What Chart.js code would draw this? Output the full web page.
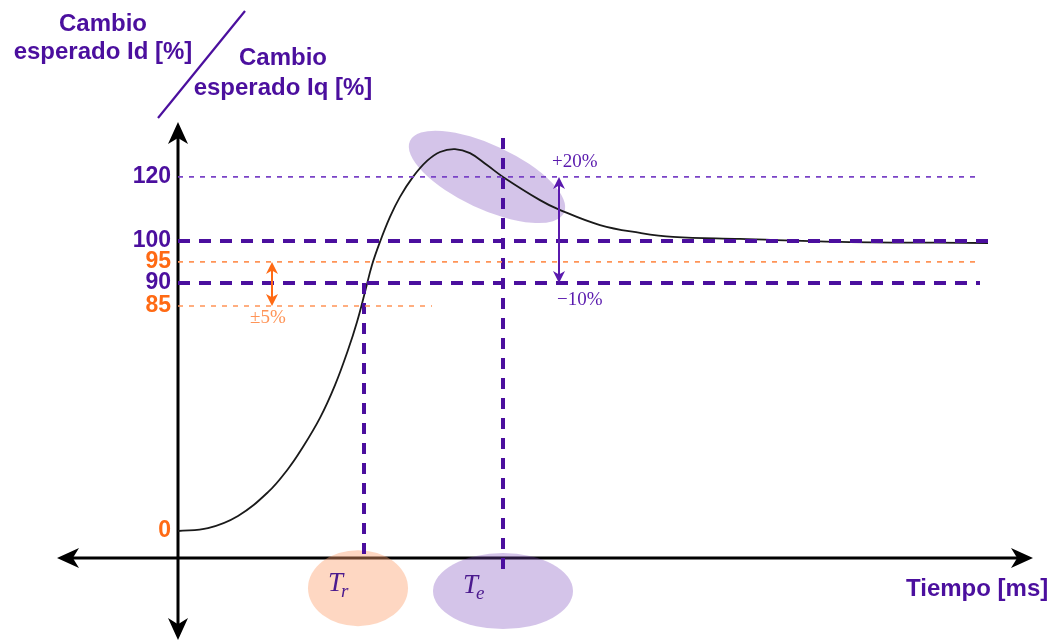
<!DOCTYPE html>
<html>
<head>
<meta charset="utf-8">
<script src="https://cdn.jsdelivr.net/npm/chart.js@4.4.1/dist/chart.umd.min.js"></script>
<style>
    html, body { margin: 0; padding: 0; background: #fff; }
    #wrap { width: 1054px; height: 641px; position: relative; }
</style>
</head>
<body>
<div id="wrap"><canvas id="chart"></canvas></div>
<script>
// Step response sketch (schematic units)
const curveT = [0, 3.0, 6.0, 9.0, 11.0, 12.3, 14.2, 15.7, 17.0, 17.9, 18.7, 19.4, 20.2, 21.2, 22.2, 23.5, 24.9, 26.2, 27.7, 29.2, 30.9, 32.5, 36.2, 38.0, 42.2, 46.2, 49.5, 56.2, 66.2, 81.0];
const curveV = [0, 1.0, 5.2, 13.4, 21.4, 27.9, 39.0, 50.3, 62.4, 72.1, 82.4, 91.7, 99.7, 108.3, 115.2, 122.1, 127.6, 130.7, 131.7, 130.3, 126.2, 122.1, 114.1, 111.0, 105.5, 102.8, 101.4, 100.7, 99.7, 99.3];

// y axis is a sketch: tick positions are where the labels sit in the drawing
const yTickValues = [0, 77.6, 85.5, 92.8, 100, 122.1];
const yTickLabels = ['0', '85', '90', '95', '100', '120'];

// horizontal reference levels (value, end time)
const refLevels = [122.1, 100, 92.8, 85.5, 77.6];
const refEnds = [80.2, 81.1, 80.2, 80.2, 25.4];

// vertical markers Tr / Te
const markerTimes = [18.6, 32.5];
const markerTops = [85.5, 135.5];
const markerBottoms = [-10, -13.4];

const PURPLE = '#4B0F9E';
const PURPLE_LIGHT = '#7A43C6';
const ORANGE = '#FF6A14';
const ORANGE_LIGHT = '#FF9457';
const yTickColors = [ORANGE, ORANGE, PURPLE, ORANGE, PURPLE, PURPLE];

const refStyles = [
    { color: PURPLE_LIGHT, width: 1.6, dash: [5, 6] },
    { color: PURPLE, width: 4, dash: [12, 9] },
    { color: ORANGE_LIGHT, width: 1.6, dash: [5, 6] },
    { color: PURPLE, width: 4, dash: [12, 9] },
    { color: ORANGE_LIGHT, width: 1.6, dash: [5, 6] }
];

function sketchArrowHead(ctx, x, y, angle, len, half) {
    ctx.save();
    ctx.translate(x, y);
    ctx.rotate(angle);
    ctx.beginPath();
    ctx.moveTo(0, 0);
    ctx.lineTo(-len, -half);
    ctx.lineTo(-len * 0.72, 0);
    ctx.lineTo(-len, half);
    ctx.closePath();
    ctx.fill();
    ctx.restore();
}

function sketchDoubleArrow(ctx, x, y1, y2, color) {
    ctx.save();
    ctx.strokeStyle = color;
    ctx.fillStyle = color;
    ctx.lineWidth = 2;
    ctx.beginPath();
    ctx.moveTo(x, y1 + 4);
    ctx.lineTo(x, y2 - 4);
    ctx.stroke();
    sketchArrowHead(ctx, x, y1, -Math.PI / 2, 12, 6);
    sketchArrowHead(ctx, x, y2, Math.PI / 2, 12, 6);
    ctx.restore();
}

function sketchEllipse(ctx, cx, cy, rx, ry, rot, color) {
    ctx.save();
    ctx.fillStyle = color;
    ctx.beginPath();
    ctx.ellipse(cx, cy, rx, ry, rot, 0, Math.PI * 2);
    ctx.fill();
    ctx.restore();
}

function sketchSubLabel(ctx, x, y, main, sub) {
    ctx.save();
    ctx.fillStyle = '#4B1A8E';
    ctx.textBaseline = 'alphabetic';
    ctx.textAlign = 'left';
    ctx.font = 'italic 27px "Liberation Serif"';
    ctx.fillText(main, x, y);
    const w = ctx.measureText(main).width;
    ctx.font = 'italic 19px "Liberation Serif"';
    ctx.fillText(sub, x + w - 2, y + 6);
    ctx.restore();
}

const sketchPlugin = {
    id: 'sketch',
    beforeDatasetsDraw(chart) {
        const ctx = chart.ctx;
        const xs = chart.scales.x, ys = chart.scales.y;
        const px = v => xs.getPixelForValue(v);
        const py = v => ys.getPixelForValue(v);

        // overshoot ellipse
        sketchEllipse(ctx, px(30.9), py(122.1), 85, 32, 25 * Math.PI / 180, 'rgba(120, 72, 186, 0.32)');

        // axes with arrows at both ends
        ctx.save();
        ctx.strokeStyle = '#000';
        ctx.fillStyle = '#000';
        ctx.lineWidth = 3;
        const axY = py(-9.3), axL = px(-12.1), axR = px(85.5);
        const ayX = px(0), ayT = py(141), ayB = py(-37.6);
        ctx.beginPath();
        ctx.moveTo(axL + 10, axY); ctx.lineTo(axR - 10, axY);
        ctx.moveTo(ayX, ayT + 10); ctx.lineTo(ayX, ayB - 10);
        ctx.stroke();
        sketchArrowHead(ctx, axL, axY, Math.PI, 22, 10);
        sketchArrowHead(ctx, axR, axY, 0, 22, 10);
        sketchArrowHead(ctx, ayX, ayT, -Math.PI / 2, 22, 10);
        sketchArrowHead(ctx, ayX, ayB, Math.PI / 2, 22, 10);
        ctx.restore();

        // ellipses under the time labels
        sketchEllipse(ctx, px(18.0), py(-19.7), 50, 38, 0, 'rgba(252, 160, 110, 0.42)');
        sketchEllipse(ctx, px(32.5), py(-20.7), 70, 38, 0, 'rgba(120, 72, 186, 0.32)');
    },
    afterDraw(chart) {
        const ctx = chart.ctx;
        const xs = chart.scales.x, ys = chart.scales.y;
        const px = v => xs.getPixelForValue(v);
        const py = v => ys.getPixelForValue(v);

        // tolerance arrows
        sketchDoubleArrow(ctx, px(9.4), py(92.8), py(77.6), ORANGE);
        sketchDoubleArrow(ctx, px(38.1), py(122.1), py(85.5), '#5A1AAE');

        ctx.save();
        ctx.textBaseline = 'alphabetic';
        ctx.textAlign = 'left';
        ctx.font = '19px "Liberation Serif"';
        ctx.fillStyle = ORANGE_LIGHT;
        ctx.fillText('\u00B15%', 250, 323);
        ctx.fillStyle = '#5A1AAE';
        ctx.fillText('+20%', 552, 167);
        ctx.fillText('\u221210%', 557, 305);

        // axis titles
        ctx.font = 'bold 24px "Liberation Sans"';
        ctx.fillStyle = PURPLE;
        ctx.textAlign = 'center';
        ctx.fillText('Cambio', 103, 31);
        ctx.fillText('esperado Id [%]', 103, 59);
        ctx.fillText('Cambio', 283, 65);
        ctx.fillText('esperado Iq [%]', 283, 95);
        ctx.textAlign = 'left';
        ctx.fillText('Tiempo [ms]', 906, 596);

        ctx.strokeStyle = PURPLE;
        ctx.lineWidth = 2.2;
        ctx.beginPath();
        ctx.moveTo(245, 11);
        ctx.lineTo(158, 118);
        ctx.stroke();
        ctx.restore();

        sketchSubLabel(ctx, 328, 591, 'T', 'r');
        sketchSubLabel(ctx, 463, 593, 'T', 'e');
    }
};

function makeLine(points, color, width, dash, order) {
    const ds = { borderColor: color, borderWidth: width, borderDash: dash, pointRadius: 0, order: order };
    ds['data'] = points;
    return ds;
}

const datasets = [];
refLevels.forEach((lvl, i) => {
    const st = refStyles[i];
    datasets.push(makeLine([{ x: 0, y: lvl }, { x: refEnds[i], y: lvl }], st.color, st.width, st.dash, 1));
});
markerTimes.forEach((t, i) => {
    datasets.push(makeLine([{ x: t, y: markerTops[i] }, { x: t, y: markerBottoms[i] }], PURPLE, 4, [11, 9], 1));
});
const curveDs = makeLine(curveT.map((t, i) => ({ x: t, y: curveV[i] })), '#1a1a1a', 1.8, [], 2);
curveDs.tension = 0.4;
datasets.push(curveDs);

const config = {
    type: 'line',
    options: {
        responsive: true,
        maintainAspectRatio: false,
        animation: false,
        layout: { padding: 0 },
        plugins: { legend: { display: false }, tooltip: { enabled: false } },
        scales: {
            x: {
                type: 'linear',
                display: false,
                min: 0,
                max: 87.6
            },
            y: {
                type: 'linear',
                min: -37.93,
                max: 183.1,
                grid: { display: false, drawTicks: false },
                border: { display: false },
                afterBuildTicks: s => { s.ticks = yTickValues.map(v => ({ value: v })); },
                afterFit: s => {
                    s.width = 178;
                    s.paddingTop = 0;
                    s.paddingBottom = 0;
                },
                ticks: {
                    autoSkip: false,
                    padding: 7,
                    color: c => yTickColors[c.index],
                    font: { family: 'Liberation Sans', size: 23, weight: 'bold' },
                    callback: (v, i) => yTickLabels[i]
                }
            }
        }
    },
    plugins: [sketchPlugin]
};
config['data'] = { datasets };

new Chart(document.getElementById('chart').getContext('2d'), config);
</script>
</body>
</html>
